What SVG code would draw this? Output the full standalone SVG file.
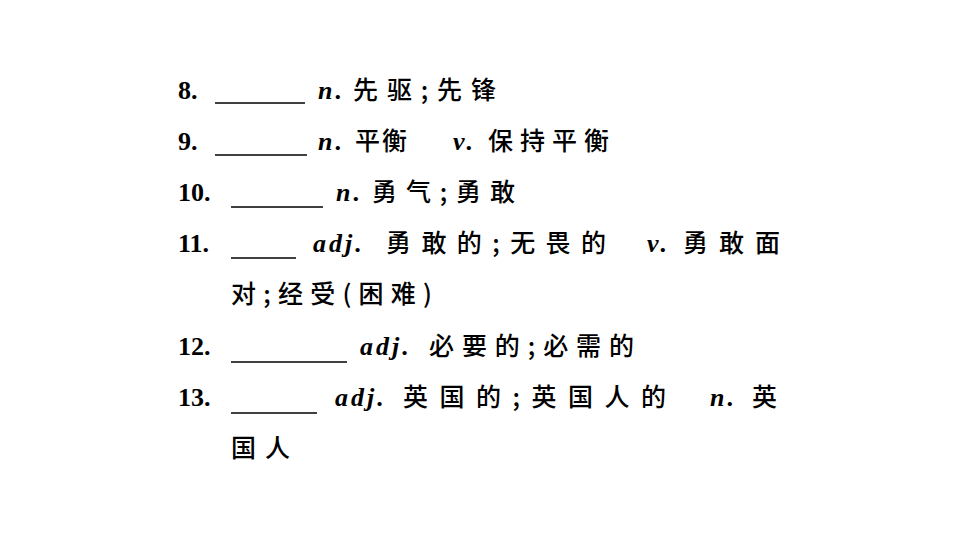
<svg xmlns="http://www.w3.org/2000/svg" width="960" height="540" viewBox="0 0 960 540">
<style>
.n{font-family:"Liberation Serif",serif;font-weight:bold;font-size:26px;fill:#000}
.i{font-family:"Liberation Serif",serif;font-weight:bold;font-style:italic;font-size:26px;fill:#000;letter-spacing:3px}
.c{font-family:"Noto Sans CJK SC",sans-serif;font-size:25px;font-weight:500;fill:#000}
line{stroke:#000;stroke-width:1.3}
</style>
<rect width="960" height="540" fill="#fff"/>
<g id="lines">
<line x1="215" y1="103" x2="305" y2="103"/>
<line x1="215" y1="155" x2="307" y2="155"/>
<line x1="231" y1="207" x2="323" y2="207"/>
<line x1="231" y1="258" x2="296" y2="258"/>
<line x1="231" y1="362" x2="347" y2="362"/>
<line x1="231" y1="413" x2="317" y2="413"/>
</g>
<g id="item8"><text class="n" x="178" y="99">8.</text><text class="i" x="318" y="99">n.</text><text class="c" x="353" y="99" textLength="143" lengthAdjust="spacing">先驱;先锋</text></g>
<g id="item9"><text class="n" x="178" y="150">9.</text><text class="i" x="318" y="150">n.</text><text class="c" x="355" y="150" textLength="52" lengthAdjust="spacing">平衡</text><text class="i" x="453" y="150">v.</text><text class="c" x="488" y="150" textLength="121" lengthAdjust="spacing">保持平衡</text></g>
<g id="item10"><text class="n" x="178" y="201">10.</text><text class="i" x="336" y="201">n.</text><text class="c" x="372" y="201" textLength="143" lengthAdjust="spacing">勇气;勇敢</text></g>
<g id="item11"><text class="n" x="178" y="252">11.</text><text class="i" x="313" y="252">adj.</text><text class="c" x="386" y="252" textLength="220" lengthAdjust="spacing">勇敢的;无畏的</text><text class="i" x="647" y="252">v.</text><text class="c" x="683" y="252" textLength="97" lengthAdjust="spacing">勇敢面</text><text class="c" x="231" y="303" textLength="201" lengthAdjust="spacing">对;经受(困难)</text></g>
<g id="item12"><text class="n" x="178" y="355">12.</text><text class="i" x="360" y="355">adj.</text><text class="c" x="429" y="355" textLength="205" lengthAdjust="spacing">必要的;必需的</text></g>
<g id="item13"><text class="n" x="178" y="406">13.</text><text class="i" x="335" y="406">adj.</text><text class="c" x="403" y="406" textLength="263" lengthAdjust="spacing">英国的;英国人的</text><text class="i" x="710" y="406">n.</text><text class="c" x="752" y="406">英</text><text class="c" x="231" y="457" textLength="59" lengthAdjust="spacing">国人</text></g>
</svg>
